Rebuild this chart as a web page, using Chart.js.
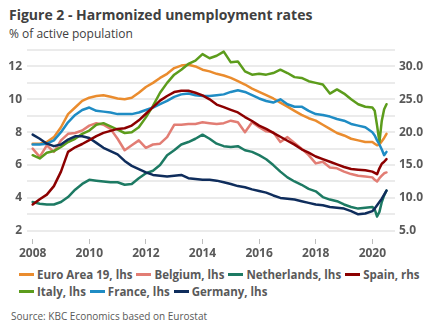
<!DOCTYPE html>
<html>
<head>
<meta charset="utf-8">
<script src="https://cdn.jsdelivr.net/npm/chart.js@4.4.1/dist/chart.umd.min.js"></script>
<style>
  html, body { margin: 0; padding: 0; background: #fff; }
  body { width: 432px; height: 334px; position: relative; overflow: hidden; font-family: "Open Sans", sans-serif; }
  #title { position: absolute; left: 9px; top: 5px; font-size: 14px; font-weight: 700; color: #404040; white-space: nowrap; }
  #subtitle { position: absolute; left: 9px; top: 24.5px; font-size: 12px; color: #404040; white-space: nowrap; }
  #wrap { position: absolute; left: 0; top: 0; width: 432px; height: 265px; }
  #legend { position: absolute; left: 19px; top: 265.5px; font-size: 11.5px; font-weight: 700; color: #595959; }
  #legend .row { display: flex; height: 17px; line-height: 17px; white-space: nowrap; }
  #legend .item { display: flex; align-items: center; margin-right: 4px; }
  #legend .swatch { display: inline-block; width: 15px; height: 3px; margin-right: 3px; }
  #source { position: absolute; left: 11px; top: 309px; font-size: 10px; color: #595959; white-space: nowrap; }
</style>
</head>
<body>
<div id="title">Figure 2 - Harmonized unemployment rates</div>
<div id="subtitle">% of active population</div>
<div id="wrap"><canvas id="chart" width="432" height="265"></canvas></div>
<div id="legend"></div>
<div id="source">Source: KBC Economics based on Eurostat</div>
<script>
// Observation dates: quarterly through 2019, monthly in 2020
const dates = [
  '2008-01','2008-04','2008-07','2008-10',
  '2009-01','2009-04','2009-07','2009-10',
  '2010-01','2010-04','2010-07','2010-10',
  '2011-01','2011-04','2011-07','2011-10',
  '2012-01','2012-04','2012-07','2012-10',
  '2013-01','2013-04','2013-07','2013-10',
  '2014-01','2014-04','2014-07','2014-10',
  '2015-01','2015-04','2015-07','2015-10',
  '2016-01','2016-04','2016-07','2016-10',
  '2017-01','2017-04','2017-07','2017-10',
  '2018-01','2018-04','2018-07','2018-10',
  '2019-01','2019-04','2019-07','2019-10',
  '2020-01','2020-02','2020-03','2020-04','2020-05','2020-06','2020-07'
];

// Unemployment rates, % of active population
const euroArea = [
  7.3, 7.3, 7.4, 7.7,   8.3, 9.1, 9.5, 9.9,   10.1, 10.2, 10.25, 10.15,
  10.05, 10.0, 10.1, 10.4,   10.75, 11.0, 11.3, 11.55,   11.9, 12.05, 12.1, 12.0,
  11.8, 11.7, 11.55, 11.45,   11.3, 11.1, 10.9, 10.65,   10.45, 10.25, 10.05, 9.8,
  9.55, 9.3, 9.05, 8.85,   8.7, 8.45, 8.2, 7.95,   7.8, 7.6, 7.5, 7.4,
  7.4, 7.3, 7.2, 7.25, 7.45, 7.65, 7.9
];
const belgium = [
  7.0, 6.5, 7.2, 6.8,   7.5, 7.9, 7.95, 8.1,   8.4, 8.55, 8.45, 8.2,
  7.6, 6.9, 7.2, 7.5,   7.05, 7.25, 7.3, 7.7,   8.45, 8.45, 8.5, 8.5,
  8.6, 8.55, 8.5, 8.55,   8.7, 8.6, 8.0, 8.6,   8.3, 8.05, 8.0, 7.4,
  7.7, 7.35, 7.0, 6.6,   6.1, 6.2, 5.85, 5.8,   5.6, 5.45, 5.35, 5.3,
  5.25, 5.1, 5.0, 5.2, 5.35, 5.5, 5.55
];
const netherlands = [
  3.75, 3.65, 3.6, 3.6,   3.75, 4.05, 4.5, 4.85,   5.1, 5.05, 5.0, 4.95,
  4.95, 4.8, 4.85, 5.2,   5.5, 5.65, 6.0, 6.6,   6.9, 7.25, 7.4, 7.6,
  7.85, 7.6, 7.3, 7.15,   7.1, 7.15, 6.9, 6.8,   6.6, 6.35, 6.0, 5.6,
  5.25, 5.0, 4.8, 4.55,   4.4, 4.05, 3.9, 3.8,   3.6, 3.45, 3.35, 3.4,
  3.45, 3.3, 2.87, 3.15, 3.75, 4.15, 4.45
];
const spain = [
  9.0, 9.8, 10.5, 11.8,   14.0, 17.0, 17.7, 18.2,   18.8, 19.4, 19.9, 20.2,
  20.5, 20.6, 21.0, 21.8,   22.8, 23.8, 24.8, 25.5,   26.1, 26.3, 26.3, 26.0,
  25.6, 25.0, 24.2, 23.8,   23.4, 23.0, 22.3, 21.7,   21.0, 20.5, 19.9, 19.3,
  18.7, 18.1, 17.4, 16.9,   16.3, 15.9, 15.5, 15.1,   14.7, 14.4, 14.3, 14.2,
  14.0, 13.8, 13.6, 14.5, 15.2, 15.5, 15.9
];
const italy = [
  6.6, 6.4, 6.75, 6.85,   7.1, 7.4, 7.6, 7.9,   8.1, 8.45, 8.55, 8.35,
  8.15, 7.95, 8.0, 8.3,   8.9, 9.6, 10.4, 11.0,   11.5, 11.8, 12.15, 12.35,
  12.75, 12.5, 12.65, 12.9,   12.25, 12.3, 11.7, 11.5,   11.55, 11.5, 11.6, 11.8,
  11.6, 11.35, 11.3, 11.1,   11.0, 10.9, 10.35, 10.6,   10.35, 10.0, 9.7, 9.55,
  9.5, 9.3, 8.4, 7.4, 8.7, 9.4, 9.7
];
const france = [
  7.25, 7.25, 7.3, 7.5,   8.0, 8.6, 9.05, 9.35,   9.5, 9.3, 9.25, 9.2,
  9.1, 9.1, 9.1, 9.2,   9.35, 9.5, 9.7, 9.9,   10.15, 10.3, 10.35, 10.25,
  10.2, 10.2, 10.25, 10.3,   10.45, 10.55, 10.45, 10.25,   10.05, 9.9, 9.8, 10.0,
  9.7, 9.55, 9.55, 9.3,   9.1, 9.05, 8.95, 8.8,   8.7, 8.5, 8.4, 8.3,
  8.0, 7.8, 7.5, 7.25, 6.95, 6.6, 6.8
];
const germany = [
  7.85, 7.6, 7.3, 7.15,   7.25, 7.55, 7.75, 7.75,   7.65, 7.35, 7.05, 6.85,
  6.65, 6.25, 5.95, 5.75,   5.55, 5.4, 5.35, 5.3,   5.35, 5.4, 5.2, 5.15,
  5.1, 5.1, 5.05, 4.95,   4.85, 4.72, 4.65, 4.52,   4.42, 4.32, 4.15, 4.0,
  3.95, 3.9, 3.8, 3.7,   3.6, 3.55, 3.45, 3.4,   3.35, 3.2, 3.0, 3.05,
  3.2, 3.35, 3.55, 3.75, 3.95, 4.2, 4.45
];

// Axis ticks
const yearTicks = [2008, 2010, 2012, 2014, 2016, 2018, 2020];
const leftGridValues = [2, 3, 4, 5, 6, 7, 8, 9, 10, 11, 12, 13];
const leftLabelValues = [2, 4, 6, 8, 10, 12];
const rightTickValues = [5, 10, 15, 20, 25, 30];

const series = [
  { label: 'Euro Area 19, lhs', values: euroArea,    color: '#EA8C2E', axis: 'y',  order: 7 },
  { label: 'Belgium, lhs',      values: belgium,     color: '#E27D74', axis: 'y',  order: 6 },
  { label: 'Netherlands, lhs',  values: netherlands, color: '#1D7A63', axis: 'y',  order: 5 },
  { label: 'Spain, rhs',        values: spain,       color: '#8C0000', axis: 'y1', order: 0 },
  { label: 'Italy, lhs',        values: italy,       color: '#5C9C1C', axis: 'y',  order: 3 },
  { label: 'France, lhs',       values: france,      color: '#1F8CC4', axis: 'y',  order: 2 },
  { label: 'Germany, lhs',      values: germany,     color: '#0F2D5C', axis: 'y',  order: 1 }
];

const toYear = d => { const [y, m] = d.split('-').map(Number); return y + (m - 1) / 12; };
const xs = dates.map(toYear);

const tickFont = { family: '"Open Sans", sans-serif', size: 12, weight: 'bold' };
const tickColor = '#595959';

new Chart(document.getElementById('chart'), {
  type: 'line',
  data: {
    datasets: series.map(s => ({
      label: s.label,
      data: s.values.map((v, i) => ({ x: xs[i], y: v })),
      borderColor: s.color,
      backgroundColor: s.color,
      yAxisID: s.axis,
      order: s.order,
      fill: false
    }))
  },
  options: {
    responsive: false,
    animation: false,
    layout: { padding: { top: 50, left: 0, right: 0, bottom: 0 } },
    plugins: { legend: { display: false }, tooltip: { enabled: false } },
    elements: {
      point: { radius: 0 },
      line: { borderWidth: 2.5, tension: 0, borderJoinStyle: 'round', borderCapStyle: 'round' }
    },
    scales: {
      x: {
        type: 'linear', min: 2007.8, max: 2020.8,
        afterBuildTicks: s => { s.ticks = yearTicks.map(v => ({ value: v })); },
        afterFit: s => { s.height = 26; },
        ticks: { callback: v => String(v), font: tickFont, color: tickColor, padding: 2, maxRotation: 0, autoSkip: false },
        grid: { drawOnChartArea: false, drawTicks: true, tickLength: 5, color: '#bdbdbd', lineWidth: 1 },
        border: { display: false }
      },
      y: {
        position: 'left', min: 1.5, max: 13,
        afterBuildTicks: s => { s.ticks = leftGridValues.map(v => ({ value: v })); },
        afterFit: s => { s.width = 27; },
        ticks: { callback: v => leftLabelValues.includes(v) ? String(v) : '', font: tickFont, color: tickColor, padding: 5, autoSkip: false },
        grid: { color: '#ebebeb', lineWidth: 2, drawTicks: false },
        border: { display: false }
      },
      y1: {
        position: 'right', min: 3.75, max: 32.5,
        afterBuildTicks: s => { s.ticks = rightTickValues.map(v => ({ value: v })); },
        afterFit: s => { s.width = 37; },
        ticks: { callback: v => v.toFixed(1), font: tickFont, color: tickColor, padding: 4, autoSkip: false },
        grid: { display: false, drawTicks: false },
        border: { display: false }
      }
    }
  }
});

// Legend: two rows, split after the fourth entry
const legend = document.getElementById('legend');
[series.slice(0, 4), series.slice(4)].forEach(rowItems => {
  const row = document.createElement('div');
  row.className = 'row';
  rowItems.forEach(s => {
    const item = document.createElement('span');
    item.className = 'item';
    const sw = document.createElement('span');
    sw.className = 'swatch';
    sw.style.background = s.color;
    item.appendChild(sw);
    item.appendChild(document.createTextNode(s.label));
    row.appendChild(item);
  });
  legend.appendChild(row);
});
</script>
</body>
</html>
